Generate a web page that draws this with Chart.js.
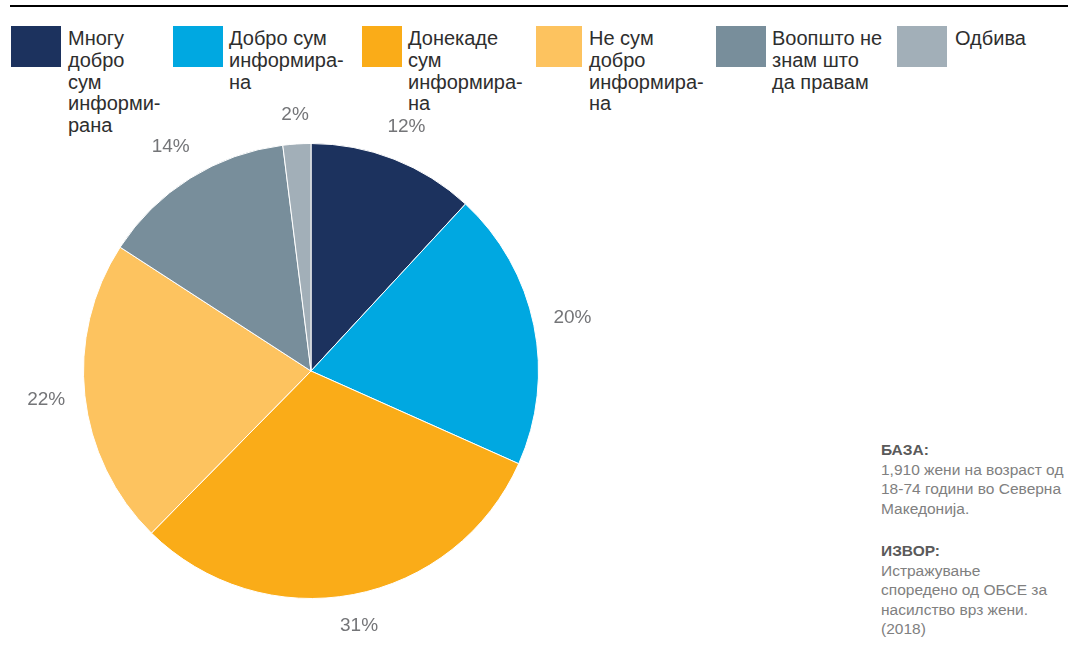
<!DOCTYPE html>
<html>
<head>
<meta charset="utf-8">
<script src="https://cdn.jsdelivr.net/npm/chart.js@4.4.1/dist/chart.umd.min.js"></script>
<style>
    body { margin: 0; width: 1070px; height: 655px; background: #fff; position: relative; overflow: hidden;
           font-family: "Liberation Sans", Arial, sans-serif; }
    #topRule { position: absolute; left: 10px; top: 5px; width: 1058px; height: 2px; background: #000; }
    #legend { position: absolute; left: 0; top: 26px; }
    .legend-item { position: absolute; top: 0; display: flex; align-items: flex-start; }
    .legend-box { height: 41px; flex: none; }
    .legend-text { font-size: 20px; line-height: 21.8px; color: #2e2e2e; white-space: nowrap; margin-top: 2px; }
    #chartWrap { position: absolute; left: 11px; top: 105px; width: 600px; height: 532px; }
    #notes { position: absolute; left: 881px; top: 440px; width: 190px; font-size: 15.5px; line-height: 19.5px; color: #808080; }
    #notes b { color: #5a5a5a; display: block; }
    #notes p { margin: 0 0 23px 0; }
</style>
</head>
<body>
<div id="topRule"></div>
<div id="legend"></div>
<div id="chartWrap"><canvas id="pieChart"></canvas></div>
<div id="notes">
    <p><b>БАЗА:</b>1,910 жени на возраст од<br>18-74 години во Северна<br>Македонија.</p>
    <p><b>ИЗВОР:</b>Истражување<br>споредено од ОБСЕ за<br>насилство врз жени.<br>(2018)</p>
</div>
<script>
// Categories (line breaks as in the original legend)
const categories = [
    ['Многу', 'добро', 'сум', 'информи-', 'рана'],
    ['Добро сум', 'информира-', 'на'],
    ['Донекаде', 'сум', 'информира-', 'на'],
    ['Не сум', 'добро', 'информира-', 'на'],
    ['Воопшто не', 'знам што', 'да правам'],
    ['Одбива']
];
const shares = [12, 20, 31, 22, 14, 2];
const sliceColors = ['#1c325e', '#00a8e1', '#faac18', '#fdc35f', '#788e9b', '#a2afb8'];

// legend layout (left edge, box width, gap to text)
const legendLeft = [11, 173, 362, 536, 716, 897];
const legendBoxW = [50, 50, 40, 46, 50, 50];
const legendGap = [7, 6, 6, 7, 6, 8];

// HTML legend built from the chart's own legend items
const htmlLegend = {
    id: 'htmlLegend',
    afterUpdate(chart) {
        const box = document.getElementById('legend');
        box.innerHTML = '';
        const items = chart.options.plugins.legend.labels.generateLabels(chart);
        items.forEach((item, i) => {
            const div = document.createElement('div');
            div.className = 'legend-item';
            div.style.left = legendLeft[i] + 'px';
            const sw = document.createElement('div');
            sw.className = 'legend-box';
            sw.style.width = legendBoxW[i] + 'px';
            sw.style.marginRight = legendGap[i] + 'px';
            sw.style.background = item.fillStyle;
            const txt = document.createElement('div');
            txt.className = 'legend-text';
            const lines = Array.isArray(item.text) ? item.text : [item.text];
            txt.innerHTML = lines.join('<br>');
            div.appendChild(sw);
            div.appendChild(txt);
            box.appendChild(div);
        });
    }
};

// percentage labels outside the slices
const pctLabels = {
    id: 'pctLabels',
    afterDatasetsDraw(chart) {
        const ctx = chart.ctx;
        const meta = chart.getDatasetMeta(0);
        ctx.save();
        ctx.font = '19px "Liberation Sans", Arial, sans-serif';
        ctx.fillStyle = '#747578';
        ctx.textAlign = 'center';
        ctx.textBaseline = 'middle';
        meta.data.forEach((arc, i) => {
            const p = arc.getProps(['x', 'y', 'startAngle', 'endAngle', 'outerRadius'], true);
            const mid = (p.startAngle + p.endAngle) / 2;
            const text = shares[i] + '%';
            const hw = ctx.measureText(text).width / 2, hh = 9;
            const ext = Math.abs(Math.cos(mid)) * hw + Math.abs(Math.sin(mid)) * hh;
            const r = p.outerRadius + 19 + ext;
            ctx.fillText(text, p.x + Math.cos(mid) * r, p.y + Math.sin(mid) * r);
        });
        ctx.restore();
    }
};

new Chart(document.getElementById('pieChart'), {
    type: 'pie',
    data: {
        labels: categories,
        datasets: [{
            data: shares,
            backgroundColor: sliceColors,
            borderColor: '#ffffff',
            borderWidth: 1
        }]
    },
    options: {
        responsive: true,
        maintainAspectRatio: false,
        animation: false,
        devicePixelRatio: 1,
        layout: { padding: 38 },
        plugins: {
            legend: { display: false },
            tooltip: { enabled: false }
        }
    },
    plugins: [htmlLegend, pctLabels]
});
</script>
</body>
</html>
